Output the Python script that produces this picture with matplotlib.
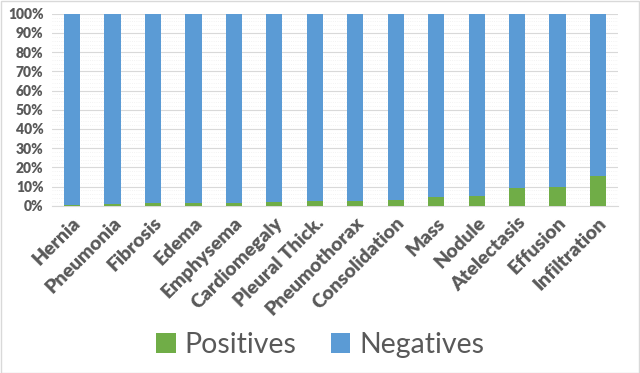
import numpy as np
import matplotlib
matplotlib.use('Agg')
import matplotlib.pyplot as plt
from matplotlib.ticker import MultipleLocator, PercentFormatter

# positive share (%) per finding
diseases = ['Hernia', 'Pneumonia', 'Fibrosis', 'Edema', 'Emphysema',
            'Cardiomegaly', 'Pleural Thick.', 'Pneumothorax', 'Consolidation',
            'Mass', 'Nodule', 'Atelectasis', 'Effusion', 'Infiltration']
positives = [0.2, 1.1, 1.4, 1.4, 1.4, 1.7, 2.3, 2.7, 3.1, 4.5, 5.2, 9.4, 9.6, 15.6]
negatives = [100 - p for p in positives]

plt.rcParams['font.family'] = ['Lato', 'DejaVu Sans']
grey = '#595959'

fig = plt.figure(figsize=(6.4, 3.73), dpi=100)
ax = fig.add_axes([0.081, 0.4485, 0.885, 0.5145])

x = np.arange(len(diseases))
ax.bar(x, positives, width=0.4, color='#70AD47', label='Positives', zorder=3)
ax.bar(x, negatives, width=0.4, bottom=positives, color='#5B9BD5',
       label='Negatives', zorder=3)

ax.set_ylim(0, 100)
ax.set_xlim(-0.5, len(diseases) - 0.5)
ax.yaxis.set_major_locator(MultipleLocator(10))
ax.yaxis.set_minor_locator(MultipleLocator(2))
ax.yaxis.set_major_formatter(PercentFormatter(decimals=0))
ax.grid(axis='y', which='major', color='#d9d9d9', lw=0.8, zorder=0)
ax.grid(axis='y', which='minor', color='#efefef', lw=0.6, ls=':', zorder=0)
for s in ['top', 'right', 'left']:
    ax.spines[s].set_visible(False)
ax.spines['bottom'].set_color('#d9d9d9')
ax.tick_params(axis='both', which='both', length=0)
ax.tick_params(axis='y', labelsize=10, labelcolor=grey, pad=6)
ax.tick_params(axis='x', pad=6)

ax.set_xticks(x)
ax.set_xticklabels(diseases, rotation=45, ha='right', rotation_mode='anchor',
                   fontsize=14, fontweight='heavy', color=grey)
for t in ax.get_yticklabels():
    t.set_fontweight('heavy')

leg = fig.legend(loc='center', bbox_to_anchor=(0.5, 0.075), ncol=2,
                 frameon=False, fontsize=20.5, handlelength=0.7,
                 handleheight=0.7, handletextpad=0.3, columnspacing=1.2)
for t in leg.get_texts():
    t.set_color(grey)

fig.patches.append(plt.Rectangle((0.001, 0.001), 0.997, 0.996,
                                 transform=fig.transFigure, fill=False,
                                 ec='#d9d9d9', lw=1))

fig.savefig('out.png', dpi=100)
